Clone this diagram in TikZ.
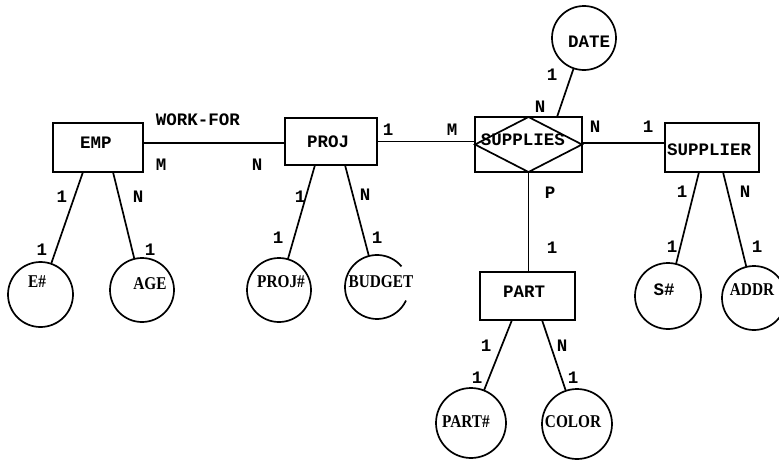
\documentclass[tikz,border=0pt]{standalone}
\usepackage{fontspec}
\setmainfont{Liberation Serif}
\newfontfamily\monof{Liberation Mono}
\newcommand\sqz[1]{\scalebox{0.85}[1]{#1}}
\begin{document}
\begin{tikzpicture}[x=1pt,y=-1pt,
  box/.style={draw,line width=1.7pt,inner sep=0pt,outer sep=0pt},
  attr/.style={draw,circle,line width=1.7pt,inner sep=0pt,outer sep=0pt,minimum size=#1},
  attr/.default=64pt,
  mt/.style={font=\monof\bfseries\fontsize{17.5}{20}\selectfont,inner sep=0pt},
  st/.style={font=\bfseries\fontsize{18}{20}\selectfont,inner sep=0pt},
  ln/.style={line width=1.7pt}]
\useasboundingbox (0,0) rectangle (779,463);
\clip (0,0) rectangle (779,463);
\fill[white] (0,0) rectangle (779,463);
% entity boxes
\node[box,minimum width=90pt,minimum height=49pt] (emp) at (98,147.5) {};
\node[box,minimum width=92pt,minimum height=47pt] (proj) at (331,141.5) {};
\node[box,minimum width=107pt,minimum height=55pt] (sup) at (528.5,144.5) {};
\node[box,minimum width=94pt,minimum height=49pt] (supr) at (712,147.5) {};
\node[box,minimum width=95pt,minimum height=48pt] (part) at (527.5,296) {};
\draw[ln] (sup.west) -- (sup.north) -- (sup.east) -- (sup.south) -- cycle;
% attribute circles
\node[attr=65pt] (ea) at (40.5,294.5) {};
\node[attr] (age) at (142,290) {};
\node[attr] (pn) at (279,290) {};
\node[attr,draw=none] (bud) at (377,287) {};
\draw[ln] (bud.40) arc[start angle=40,end angle=335,radius=32pt];
\node[attr] (date) at (584,38) {};
\node[attr=66pt] (sn) at (668,296) {};
\node[attr] (addr) at (754,298) {};
\node[attr=70pt] (partn) at (471,423) {};
\node[attr=70pt] (color) at (577,424) {};
% connectors
\draw[ln] ([yshift=4.5pt]emp.east) coordinate (c1) -- (c1 -| proj.west);
\draw[ln] (proj.east) -- (proj.east -| sup.west);
\draw[ln] ([yshift=1.5pt]sup.east) coordinate (c2) -- (c2 -| supr.west);
\draw[ln] ([xshift=28.5pt]sup.north) -- (date);
\draw[ln] (sup.south) -- (sup.south |- part.north);
\draw[ln] ([xshift=-15pt]emp.south) -- (ea);
\draw[ln] ([xshift=15pt]emp.south) -- (age);
\draw[ln] ([xshift=-16pt]proj.south) -- (pn);
\draw[ln] ([xshift=14pt]proj.south) -- (bud);
\draw[ln] ([xshift=-13pt]supr.south) -- (sn);
\draw[ln] ([xshift=11pt]supr.south) -- (addr);
\draw[ln] ([xshift=-15.5pt]part.south) -- (partn);
\draw[ln] ([xshift=14.5pt]part.south) -- (color);
% texts in shapes
\node[mt] (temp) at (96,143) {EMP};
\node[mt] (tproj) at (328,142) {PROJ};
\node[mt] (tsup) at (523,140) {SUPPLIES};
\node[mt] (tsupr) at (709,150) {SUPPLIER};
\node[mt] (tpart) at (524,292) {PART};
\node[st] (tea) at (37,282) {\sqz{E\#}};
\node[st] (tage) at (150,284) {\sqz{AGE}};
\node[st] (tpn) at (281,282) {\sqz{PROJ\#}};
\node[st] (tbud) at (381,282) {\sqz{BUDGET}};
\node[mt] (tdate) at (589,42) {DATE};
\node[mt] (tsn) at (664,290) {S\#};
\node[st] (taddr) at (752,290) {\sqz{ADDR}};
\node[st] (tpartn) at (466,422) {\sqz{PART\#}};
\node[st] (tcolor) at (573,422) {\sqz{COLOR}};
% relationship and cardinality labels
\node[mt] (wf) at (198,120) {WORK-FOR};
\node[mt] (l1) at (161,165) {M};
\node[mt] (l2) at (257,165) {N};
\node[mt] (l3) at (62,197) {1};
\node[mt] (l4) at (42,250) {1};
\node[mt] (l5) at (138,197) {N};
\node[mt] (l6) at (150,250) {1};
\node[mt] (l7) at (300,197) {1};
\node[mt] (l8) at (278,238) {1};
\node[mt] (l9) at (365,195) {N};
\node[mt] (l10) at (377,238) {1};
\node[mt] (l11) at (388,130) {1};
\node[mt] (l12) at (452,130) {M};
\node[mt] (l13) at (552,75) {1};
\node[mt] (l14) at (540,107) {N};
\node[mt] (l15) at (595,127) {N};
\node[mt] (l16) at (648,127) {1};
\node[mt] (l17) at (682,192) {1};
\node[mt] (l18) at (672,247) {1};
\node[mt] (l19) at (745,192) {N};
\node[mt] (l20) at (757,247) {1};
\node[mt] (l21) at (550,193) {P};
\node[mt] (l22) at (552,248) {1};
\node[mt] (l23) at (486,346) {1};
\node[mt] (l24) at (562,346) {N};
\node[mt] (l25) at (477,378) {1};
\node[mt] (l26) at (573,378) {1};
\end{tikzpicture}
\end{document}
